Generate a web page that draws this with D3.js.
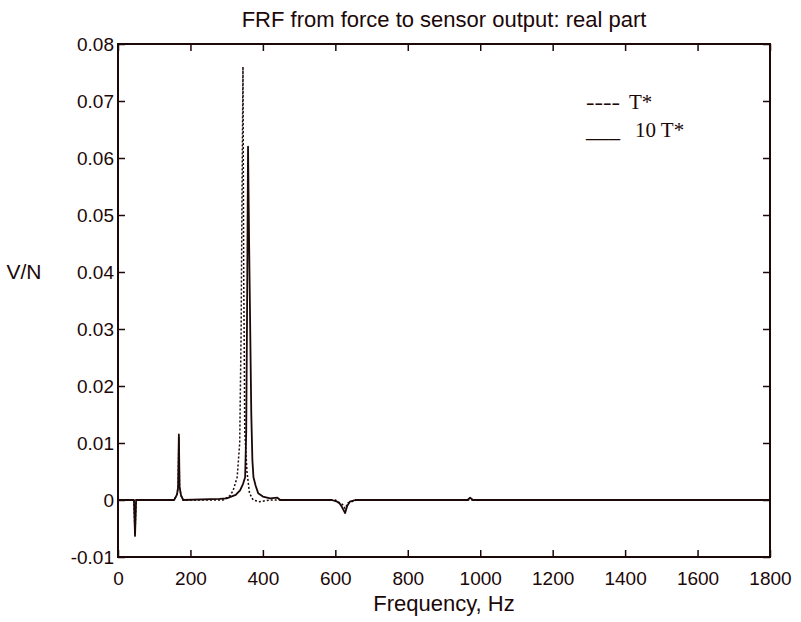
<!DOCTYPE html>
<html>
<head>
<meta charset="utf-8">
<style>
	body { margin: 0; background: #fff; }
	svg text { font-family: "Liberation Sans", Arial, sans-serif; fill: #1c0808; }
</style>
</head>
<body>
<svg width="801" height="622"></svg>
<script src="https://d3js.org/d3.v7.min.js"></script>
<script>

// 10 T* (solid line)
var solidHz  = [0, 44, 47, 50, 155, 163, 166, 168, 170, 174, 180, 280, 300, 309, 325, 337, 345, 351, 354, 356, 359, 362, 365, 368, 371, 374, 380, 387, 400, 420, 440, 448, 460, 590, 605, 612, 618, 627, 633, 640, 655, 965, 972, 980, 1800]
var solidVal = [0, 0, -0.0063, 0, 0, 0.001, 0.0023, 0.0115, 0.0023, 0.0008, 0, 0.0002, 0.0003, 0.0005, 0.0009, 0.0017, 0.0028, 0.004, 0.012, 0.03, 0.062, 0.045, 0.03, 0.015, 0.007, 0.004, 0.0025, 0.0012, 0.0006, 0.0003, 0.0004, 0, 0, 0, -0.0003, -0.0006, -0.0012, -0.0023, -0.001, -0.0003, 0, 0, 0.0004, 0, 0]

// T* (dotted line)
var dottedHz  = [0, 44, 47, 50, 155, 163, 166, 168, 170, 174, 180, 290, 310, 318, 329, 336, 340, 342, 345, 347, 350, 356, 363, 373, 390, 420, 600, 620, 627, 635, 660, 1800]
var dottedVal = [0, 0, -0.006, 0, 0, 0.001, 0.0022, 0.011, 0.0022, 0.0008, 0, 0, 0.0008, 0.0017, 0.004, 0.01, 0.03, 0.05, 0.076, 0.04, 0.012, 0.005, 0.0012, 0, -0.0003, 0, 0, -0.0008, -0.0015, -0.0005, 0, 0]

var xTicks = [0, 200, 400, 600, 800, 1000, 1200, 1400, 1600, 1800]
var yTicks = [-0.01, 0, 0.01, 0.02, 0.03, 0.04, 0.05, 0.06, 0.07, 0.08]
var yLabels = ['-0.01', '0', '0.01', '0.02', '0.03', '0.04', '0.05', '0.06', '0.07', '0.08']
var legendMarks = ['----', '___']
var legendNames = ['T*', '10 T*']

var ink = '#1c0808',
	plotLeft = 118, plotRight = 770, plotTop = 44, plotBottom = 557

var svg = d3.select('svg')

var x = d3.scaleLinear().domain([0, 1800]).range([plotLeft, plotRight])
var y = d3.scaleLinear().domain([-0.01, 0.08]).range([plotBottom, plotTop])

var line = d3.line()
	.x(function(d) { return x(d[0]) })
	.y(function(d) { return y(d[1]) })

// dotted series first, solid on top
svg.append('path')
	.datum(dottedHz.map(function(h, i) { return [h, dottedVal[i]] }))
	.attr('d', line)
	.attr('fill', 'none')
	.attr('stroke', ink)
	.attr('stroke-width', 1.5)
	.attr('stroke-dasharray', '2,2')

svg.append('path')
	.datum(solidHz.map(function(h, i) { return [h, solidVal[i]] }))
	.attr('d', line)
	.attr('fill', 'none')
	.attr('stroke', ink)
	.attr('stroke-width', 1.8)
	.attr('stroke-linejoin', 'round')

// axes, ticks pointing inwards on all four sides
function styleAxis(g) {
	g.selectAll('path').remove()
	g.selectAll('line').attr('stroke', ink).attr('stroke-width', 1.5)
	g.selectAll('text').attr('fill', ink).style('font-size', '19px')
}

svg.append('g')
	.attr('transform', 'translate(0,' + plotBottom + ')')
	.call(d3.axisBottom(x).tickValues(xTicks).tickSizeInner(-7).tickSizeOuter(0).tickPadding(15).tickFormat(d3.format('d')))
	.call(styleAxis)

svg.append('g')
	.attr('transform', 'translate(0,' + plotTop + ')')
	.call(d3.axisTop(x).tickValues(xTicks).tickSizeInner(-7).tickSizeOuter(0).tickFormat(''))
	.call(styleAxis)

svg.append('g')
	.attr('transform', 'translate(' + plotLeft + ',0)')
	.call(d3.axisLeft(y).tickValues(yTicks).tickSizeInner(-7).tickSizeOuter(0).tickPadding(4)
		.tickFormat(function(d, i) { return yLabels[i] }))
	.call(styleAxis)

svg.append('g')
	.attr('transform', 'translate(' + plotRight + ',0)')
	.call(d3.axisRight(y).tickValues(yTicks).tickSizeInner(-7).tickSizeOuter(0).tickFormat(''))
	.call(styleAxis)

svg.append('rect')
	.attr('x', plotLeft).attr('y', plotTop)
	.attr('width', plotRight - plotLeft).attr('height', plotBottom - plotTop)
	.attr('fill', 'none')
	.attr('stroke', ink)
	.attr('stroke-width', 2)

// titles
svg.append('text')
	.attr('x', (plotLeft + plotRight) / 2).attr('y', 27)
	.attr('text-anchor', 'middle')
	.style('font-size', '22px')
	.text('FRF from force to sensor output: real part')

svg.append('text')
	.attr('x', (plotLeft + plotRight) / 2).attr('y', 611)
	.attr('text-anchor', 'middle')
	.style('font-size', '22px')
	.text('Frequency, Hz')

svg.append('text')
	.attr('x', 24).attr('y', 279)
	.attr('text-anchor', 'middle')
	.style('font-size', '21px')
	.text('V/N')

// legend is plain serif text, as in the original
var legend = svg.selectAll('.legend')
	.data(legendNames)
	.enter().append('text')
	.attr('class', 'legend')
	.attr('y', function(d, i) { return 109 + i * 28 })
	.style('font-family', '"Liberation Serif", "Times New Roman", serif')
	.style('font-size', '21px')

legend.append('tspan')
	.attr('x', 586)
	.attr('textLength', 34)
	.attr('lengthAdjust', 'spacingAndGlyphs')
	.text(function(d, i) { return legendMarks[i] })

legend.append('tspan')
	.attr('x', function(d, i) { return i == 0 ? 629 : 635 })
	.text(function(d) { return d })

</script>
</body>
</html>
